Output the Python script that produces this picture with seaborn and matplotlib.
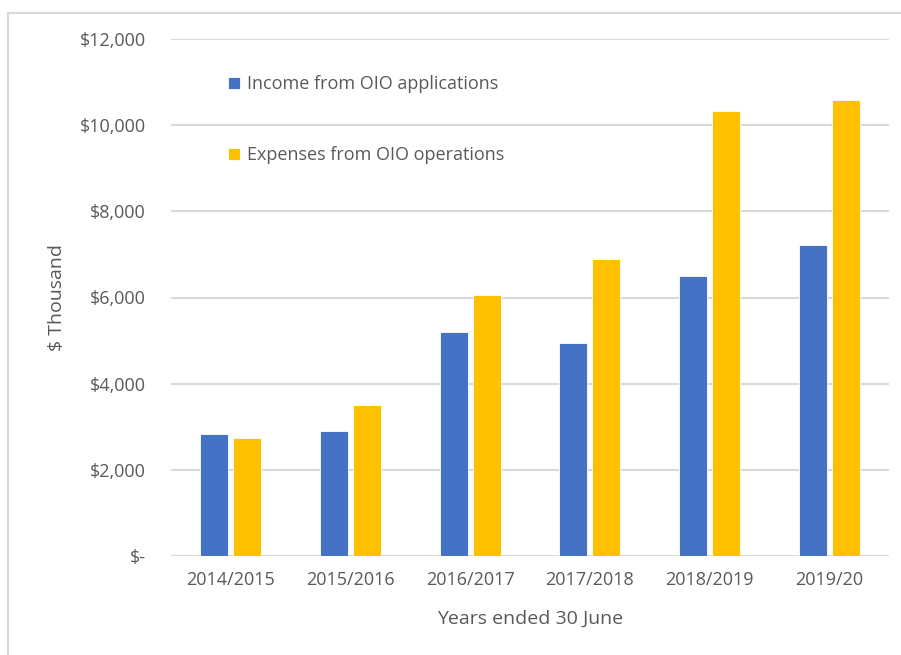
import pandas as pd
import matplotlib
matplotlib.use("Agg")
import matplotlib.pyplot as plt
from matplotlib.patches import Rectangle
from matplotlib.ticker import FuncFormatter
import seaborn as sns

# values ($ thousand)
years = ['2014/2015', '2015/2016', '2016/2017', '2017/2018', '2018/2019', '2019/20']
income = [2840, 2910, 5200, 4950, 6510, 7230]
expenses = [2730, 3500, 6050, 6890, 10330, 10580]
series_names = ['Income from OIO applications', 'Expenses from OIO operations']
colors = ['#4472C4', '#FFC000']

df = pd.DataFrame({
    'Year': years * 2,
    'Value': income + expenses,
    'Series': [series_names[0]] * len(years) + [series_names[1]] * len(years),
})

sns.set_style('white')
plt.rcParams['font.family'] = ['Open Sans', 'DejaVu Sans']
grey = '#595959'

fig = plt.figure(figsize=(9.01, 6.55), dpi=100)
ax = fig.add_axes([171 / 901, 1 - 556 / 655, 718 / 901, 517 / 655])

sns.barplot(data=df, x='Year', y='Value', hue='Series', palette=colors,
            saturation=1, width=0.55, gap=0.15, ax=ax, edgecolor='white', linewidth=0.6)

ax.set_ylim(0, 12000)
ax.set_yticks(range(0, 12001, 2000))
ax.yaxis.set_major_formatter(FuncFormatter(lambda v, p: '$-' if v == 0 else f'${v:,.0f}'))
ax.grid(axis='y', color='#d9d9d9', linewidth=1.5)
ax.set_axisbelow(True)
for s in ax.spines.values():
    s.set_visible(False)
ax.tick_params(axis='both', length=0, labelsize=13, labelcolor=grey)
ax.tick_params(axis='y', pad=18)
ax.tick_params(axis='x', pad=11)

ax.set_xlabel('Years ended 30 June', fontsize=14, color=grey, labelpad=15)
ax.set_ylabel('$ Thousand', fontsize=14, color=grey, labelpad=10)

ax.legend(loc='upper left', bbox_to_anchor=(0.079, 0.93), frameon=False,
          fontsize=13, labelcolor=grey, handlelength=0.7, handleheight=0.7,
          handletextpad=0.35, labelspacing=2.95, borderpad=0, borderaxespad=0)

# light chart border (only left/top visible in the crop)
fig.patches.append(Rectangle((8 / 901, -0.1), 1.2, 1 - 13 / 655 + 0.1,
                             transform=fig.transFigure, fill=False,
                             edgecolor='#d9d9d9', linewidth=1.5))

fig.savefig('out.png', dpi=100)
